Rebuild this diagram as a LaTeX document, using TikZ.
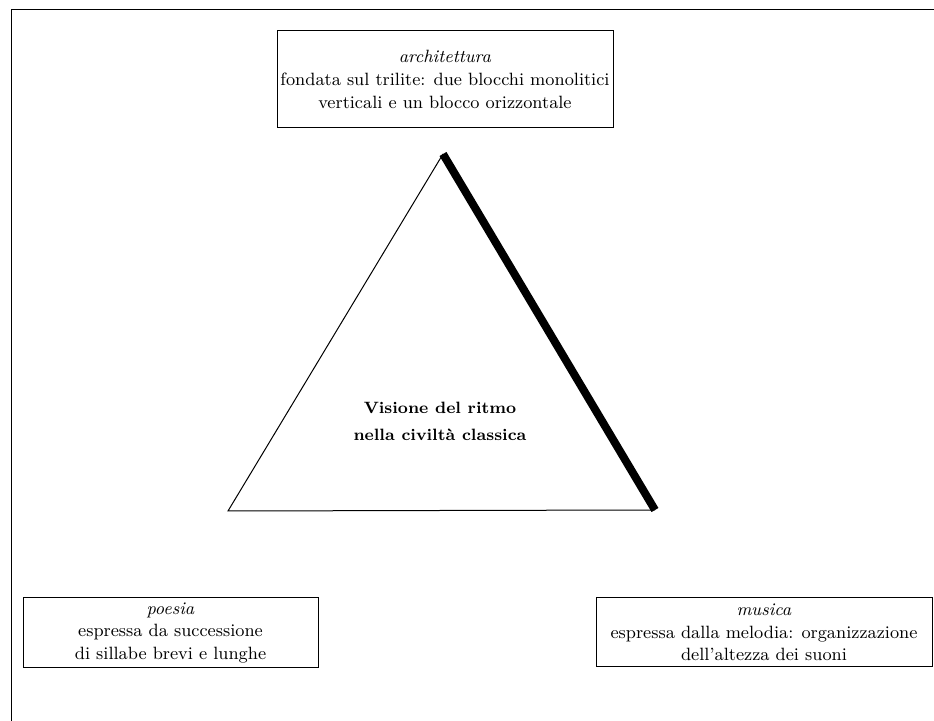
\documentclass[tikz,border=0pt]{standalone}
\usepackage{fontspec}
\usepackage{tikz}
\begin{document}
\begin{tikzpicture}[x=0.5pt,y=-0.5pt]
  \tikzstyle{box}=[draw,line width=0.5pt,align=center,inner sep=0pt,font=\fontsize{8.9}{11.3}\selectfont]
  \useasboundingbox (0,0) rectangle (934,721);
  \draw[line width=0.5pt] (934,10) -- (11,10) -- (11,721);
  \node[box,minimum width=168pt,minimum height=48.5pt] (B_1) at (445,79.5)
    {\textit{architettura}\\fondata sul trilite: due blocchi monolitici\\verticali e un blocco orizzontale};
  \node[box,minimum width=147.5pt,minimum height=35pt] (B_2) at (170.5,633)
    {\textit{poesia}\\espressa da successione\\di sillabe brevi e lunghe};
  \node[box,minimum width=168pt,minimum height=34.5pt] (B_3) at (764,632.5)
    {\textit{musica}\\espressa dalla melodia: organizzazione\\dell'altezza dei suoni};
  \coordinate (T_1) at (443,154);
  \coordinate (T_2) at (228,511);
  \coordinate (T_3) at (655,510);
  \draw[line width=0.5pt] (T_3) -- (T_2) -- (T_1);
  \draw[line width=4pt] (T_1) -- (T_3);
  \node[align=center,font=\bfseries\fontsize{8.2}{13.5}\selectfont] (V) at (440,421)
    {Visione del ritmo\\nella civiltà classica};
\end{tikzpicture}
\end{document}
